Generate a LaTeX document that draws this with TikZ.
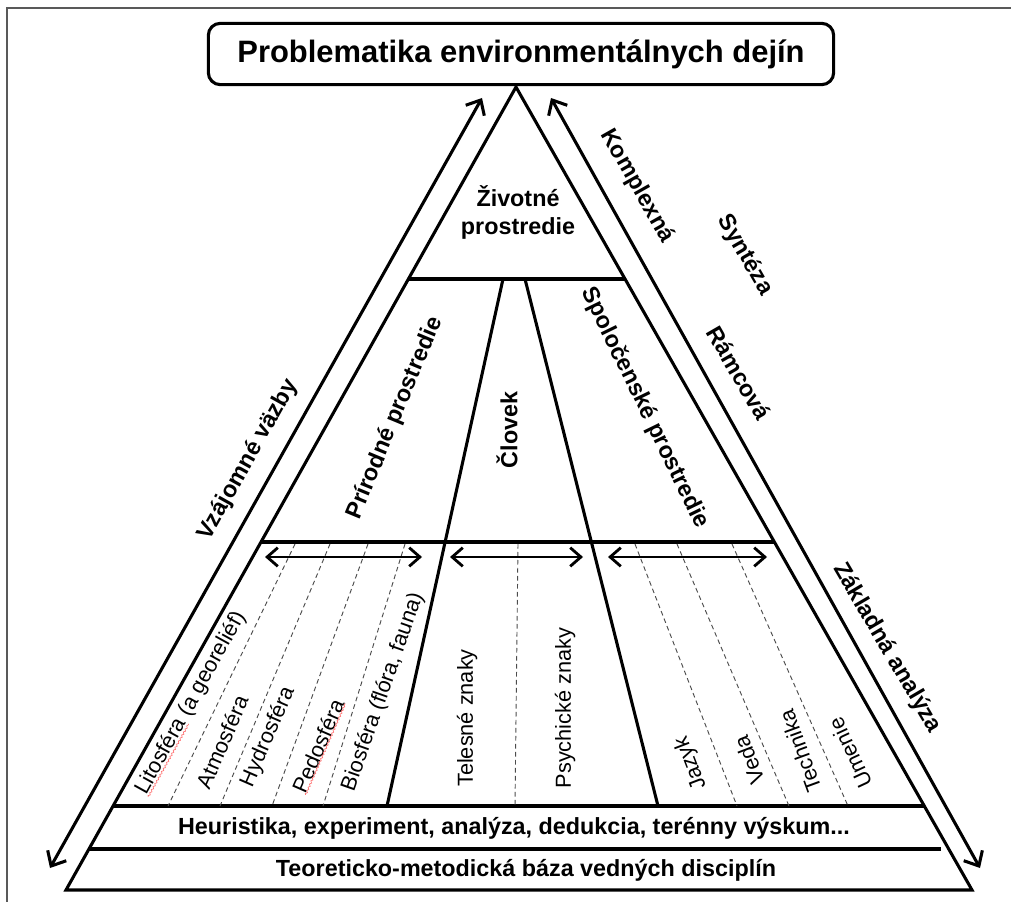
\documentclass[tikz,border=0pt]{standalone}
\usepackage{fontspec}
\setmainfont{Liberation Sans}
\usetikzlibrary{calc,arrows.meta,decorations.pathmorphing}

\begin{document}
\begin{tikzpicture}[x=0.75pt,y=-0.75pt,
    frame/.style={draw=black!65, line width=0.9pt},
    side/.style={line width=2.3pt},
    dashline/.style={black!70, line width=0.7pt, dash pattern=on 3.5pt off 2.5pt},
    twoway/.style={line width=2.1pt, {Straight Barb[length=8pt,width=14pt]}-{Straight Barb[length=8pt,width=14pt]}},
    bigarrow/.style={line width=2.3pt, {Straight Barb[length=9pt,width=16pt]}-{Straight Barb[length=9pt,width=16pt]}},
    titlebox/.style={draw, line width=2.3pt, rounded corners=9pt, minimum width=469pt, minimum height=46pt,
        font=\bfseries\fontsize{23.2}{27}\selectfont},
    lab/.style={font=\bfseries\fontsize{17.5}{21}\selectfont, inner sep=0pt, align=center},
    sub/.style={font=\fontsize{16.3}{19}\selectfont, inner sep=0pt},
    spell/.style={red!55, line width=0.5pt, decorate, decoration={snake, amplitude=0.6pt, segment length=2.6pt}}
]
    \useasboundingbox (0,0) rectangle (1011,902);
    \draw[frame] (7,902) -- (7,8) -- (1011,8);

    \node[titlebox] (title) at (521,54) {Problematika environmentálnych dejín};

    \coordinate (apex) at (516,87);
    \coordinate (bl) at (66,890);
    \coordinate (br) at (972,890);
    \draw[side] (apex) -- (bl) -- (br) -- cycle;

    % levels
    \foreach \n/\t in {a/.2391,b/.5666,c/.8954,d/.9489}{
        \coordinate (\n w) at ($(apex)!\t!(bl)$);
        \coordinate (\n e) at ($(apex)!\t!(br)$);
    }
    \draw[side] (aw) -- (ae);
    \draw[side] (bw) -- (be);
    \draw[side] (cw) -- (ce);
    \draw[side, shorten >=6pt] (dw) -- (de);

    \coordinate (d1t) at (503,279);
    \coordinate (d1b) at (387,806);
    \coordinate (d2t) at (525,279);
    \coordinate (d2b) at (658,806);
    \draw[side] (d1t) -- (d1b);
    \draw[side] (d2t) -- (d2b);

    \foreach \a/\b in {295/168,330/220,368/272,405/323,518/515,635/737,677/789,732/848}
        \draw[dashline] (\a,544) -- (\b,806);

    \draw[twoway] (265,557) -- (422,557);
    \draw[twoway] (450,557) -- (583,557);
    \draw[twoway] (608,557) -- (767,557);

    \coordinate (vl1) at (50,868);
    \coordinate (vl2) at (482,98);
    \coordinate (vr1) at (551,98);
    \coordinate (vr2) at (980,868);
    \draw[bigarrow] (vl1) -- (vl2);
    \draw[bigarrow] (vr1) -- (vr2);

    % main fields
    \node[lab] (zivot) at (518,212) {Životné\\prostredie};
    \node[lab, rotate=67.5] (prir) at (395,418) {Prírodné prostredie};
    \node[lab, rotate=90] (clovek) at (507,430) {Človek};
    \node[lab, rotate=-64] (spol) at (645,408) {Spoločenské prostredie};

    % along the arrows
    \node[lab, rotate=60.75] (vzaj) at (248,460) {Vzájomné väzby};
    \node[lab, rotate=-60.5] (kompl) at (637,186) {Komplexná};
    \node[lab, rotate=-60] (synt) at (745,255) {Syntéza};
    \node[lab, rotate=-60] (ramc) at (739,373) {Rámcová};
    \node[lab, rotate=-59.5] (zakl) at (887,648) {Základná analýza};

    % strips
    \node[sub, rotate=61] (lito) at (191,703) {Litosféra (a georeliéf)};
    \node[sub, rotate=66.5] (atmo) at (222,742) {Atmosféra};
    \node[sub, rotate=66.5] (hydro) at (268,737) {Hydrosféra};
    \node[sub, rotate=66.5] (pedo) at (318,746) {Pedosféra};
    \node[sub, rotate=70.7] (bio) at (383,692) {Biosféra (flóra, fauna)};
    \node[sub, rotate=90] (teles) at (467,718) {Telesné znaky};
    \node[sub, rotate=90] (psych) at (565,708) {Psychické znaky};
    \node[sub, rotate=111] (jazyk) at (691,763) {Jazyk};
    \node[sub, rotate=111] (veda) at (749,760) {Veda};
    \node[sub, rotate=110] (tech) at (800,751) {Technika};
    \node[sub, rotate=115] (umen) at (850,753) {Umenie};

    \coordinate (u1) at ($(lito.base west)!.5!(lito.south west)$);
    \coordinate (u2) at ($(lito.base east)!.5!(lito.south east)$);
    \draw[spell] (u1) -- ($(u1)!.406!(u2)$);
    \draw[spell] ($(pedo.base west)!.5!(pedo.south west)$) -- ($(pedo.base east)!.5!(pedo.south east)$);

    \node[lab] (heur) at (514,828) {Heuristika, experiment, analýza, dedukcia, terénny výskum...};
    \node[lab] (teor) at (526,870) {Teoreticko-metodická báza vedných disciplín};
\end{tikzpicture}
\end{document}
